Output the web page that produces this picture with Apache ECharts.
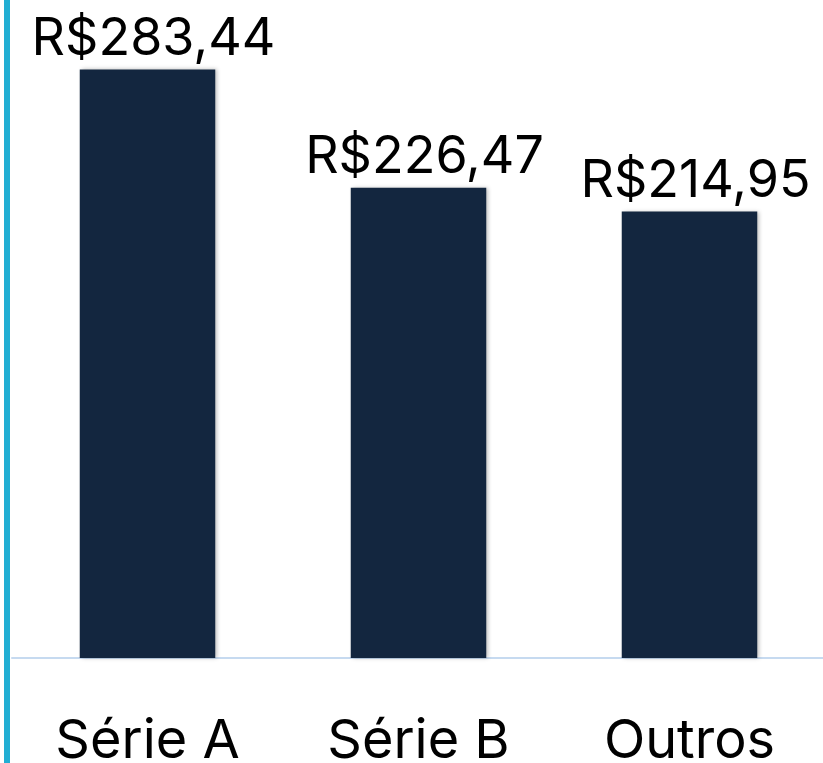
<!DOCTYPE html>
<html>
<head>
<meta charset="utf-8">
<script src="https://cdn.jsdelivr.net/npm/echarts@6/dist/echarts.min.js"></script>
<style>
  html, body { margin: 0; padding: 0; background: #fff; }
  #main { width: 823px; height: 763px; }
</style>
</head>
<body>
<div id="main"></div>
<script>
const categories = ['Série A', 'Série B', 'Outros'];
const values = [283.44, 226.47, 214.95];

const chartDom = document.getElementById('main');
const myChart = echarts.init(chartDom);

const fmt = v => 'R$' + v.toFixed(2).replace('.', ',');

const option = {
  animation: false,
  grid: { left: 12, right: -2, top: 35, bottom: 105, containLabel: false, outerBoundsMode: 'none' },
  graphic: [
    {
      type: 'rect',
      left: 4,
      top: 0,
      shape: { width: 6, height: 763 },
      style: { fill: '#21AED3' }
    }
  ],
  xAxis: {
    type: 'category',
    data: categories,
    axisTick: { show: false },
    axisLine: { lineStyle: { color: '#C6DAF0', width: 2 } },
    axisLabel: {
      color: '#000',
      fontFamily: 'Inter',
      fontSize: 54,
      margin: 57
    }
  },
  yAxis: {
    type: 'value',
    min: 0,
    max: 300,
    show: false,
    splitLine: { show: false }
  },
  series: [
    {
      type: 'bar',
      data: values,
      barWidth: '50%',
      itemStyle: {
        color: '#13263F',
        shadowColor: 'rgba(0,0,0,0.25)',
        shadowBlur: 4,
        shadowOffsetX: 2,
        shadowOffsetY: 0
      },
      label: {
        show: true,
        position: 'top',
        distance: 4,
        offset: [6, 0],
        color: '#000',
        fontFamily: 'Inter',
        fontSize: 52,
        formatter: p => fmt(p.value)
      }
    }
  ]
};

option && myChart.setOption(option);
</script>
</body>
</html>
